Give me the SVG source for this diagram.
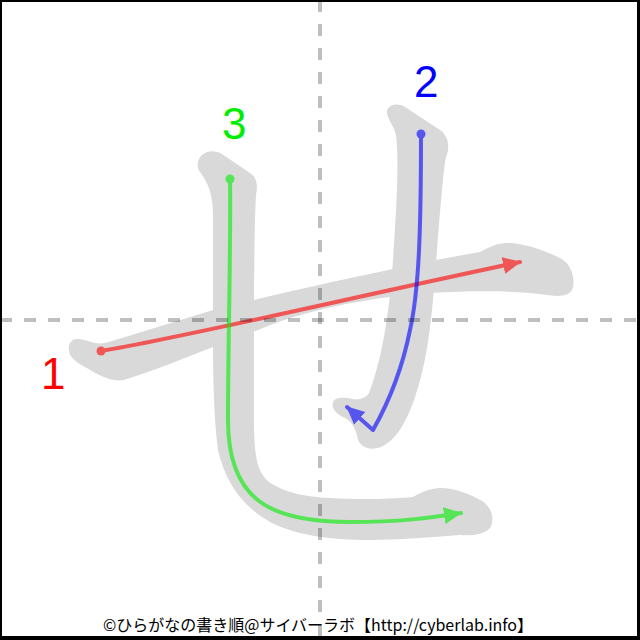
<svg xmlns="http://www.w3.org/2000/svg" width="640" height="640" viewBox="0 0 640 640">
<style>
.ghost{fill:#d9d9d9}
.guide{stroke:#000;stroke-opacity:0.25;stroke-width:4;stroke-dasharray:12 12;fill:none}
.line{fill:none;stroke-width:4;stroke-linecap:round;stroke-linejoin:round}
.num{font-family:"Liberation Sans",Arial,sans-serif;font-size:44px}
.credit{font-family:"Noto Sans CJK JP","Liberation Sans",sans-serif;font-size:16px;fill:#000}
</style>
<defs>
<marker id="arR" markerUnits="userSpaceOnUse" markerWidth="18" markerHeight="18" viewBox="0 0 18 18" refX="17" refY="9" orient="auto"><path d="M0,0.5 L18,9 L0,17.5 Z" fill="#f00"/></marker>
<marker id="arB" markerUnits="userSpaceOnUse" markerWidth="18" markerHeight="18" viewBox="0 0 18 18" refX="17" refY="9" orient="auto"><path d="M0,0.5 L18,9 L0,17.5 Z" fill="#00f"/></marker>
<marker id="arG" markerUnits="userSpaceOnUse" markerWidth="18" markerHeight="18" viewBox="0 0 18 18" refX="17" refY="9" orient="auto"><path d="M0,0.5 L18,9 L0,17.5 Z" fill="#0e0"/></marker>
</defs>
<rect x="0" y="0" width="640" height="640" fill="#fff"/>
<g id="ghost-character">
<path class="ghost" d="M73,340 C78,337 88,341 95,343 C100,344 106,343 112,341 L213,310 C300,288 380,272 430,261 L480,252 C490,247 496,243 508,243 C525,243 545,251 560,258 C572,264 576,280 572,290 C568,296 560,297 548,295 C520,291 480,290 430,293 C360,298 300,312 258,330 L213,347 C180,360 150,372 124,380 C112,382 100,376 85,367 C76,362 70,358 69,351 C68,345 70,342 73,340 Z"/>
<path class="ghost" d="M387,110 C390,104 398,103 405,107 L440,130 C449,136 450,148 446,157 C444,165 441,200 437,250 C432,320 428,360 414,400 C405,425 395,440 383,446 C373,451 362,449 358,440 C357,432 353,422 345,418 C336,414 331,408 333,402 C335,397 345,397 352,399 C360,400 366,398 369,393 C380,365 389,320 393,260 C397,200 399,160 396,135 C394,125 386,118 387,110 Z"/>
<path class="ghost" d="M198,162 C200,152 212,148 222,154 L250,173 C257,178 258,185 256,195 C254,230 254,300 254,340 L254,420 C254,460 258,475 272,484 C285,492 305,497 330,498 C360,500 390,499 413,497 C420,493 427,489 440,488 C455,488 470,494 482,501 C492,507 495,520 490,528 C484,535 470,536 460,535 C430,537 400,540 370,540 C330,540 295,535 270,522 C240,505 225,480 218,450 C214,420 213,380 213,340 L213,215 C213,195 208,182 200,172 C198,169 197,166 198,162 Z"/>
</g>
<g id="connectors">
<g id="stroke1" opacity="0.6">
<path class="line" stroke="#f00" d="M101,351 C190,336 340,300 520,262" marker-end="url(#arR)"/>
<circle cx="101" cy="351" r="4.5" fill="#f00"/>
</g>
<g id="stroke2" opacity="0.6">
<path class="line" stroke="#00f" d="M421,134 C421,230 419,290 410,330 C402,370 390,400 373,430 L347,407" marker-end="url(#arB)"/>
<circle cx="421" cy="134" r="4.5" fill="#00f"/>
</g>
<g id="stroke3" opacity="0.6">
<path class="line" stroke="#0e0" d="M230,179 C231,250 228,340 228,420 C228,500 270,522 350,522 C400,522 430,518 461,513" marker-end="url(#arG)"/>
<circle cx="230" cy="179" r="4.5" fill="#0e0"/>
</g>
</g>
<g id="label1"><text class="num" x="41" y="389" fill="#f00">1</text></g>
<g id="label2"><text class="num" x="414" y="97" fill="#00f">2</text></g>
<g id="label3"><text class="num" x="222" y="139" fill="#0e0">3</text></g>
<g id="credit"><text class="credit" x="318" y="631" text-anchor="middle">©ひらがなの書き順@サイバーラボ【http://cyberlab.info】</text></g>
<g id="guides">
<line class="guide" x1="320" y1="0" x2="320" y2="640"/>
<line class="guide" x1="0" y1="320" x2="640" y2="320"/>
</g>
<path id="frame" fill="#000" fill-rule="evenodd" d="M0,0 H640 V640 H0 Z M2,2 V636 H637 V2 Z"/>
</svg>
